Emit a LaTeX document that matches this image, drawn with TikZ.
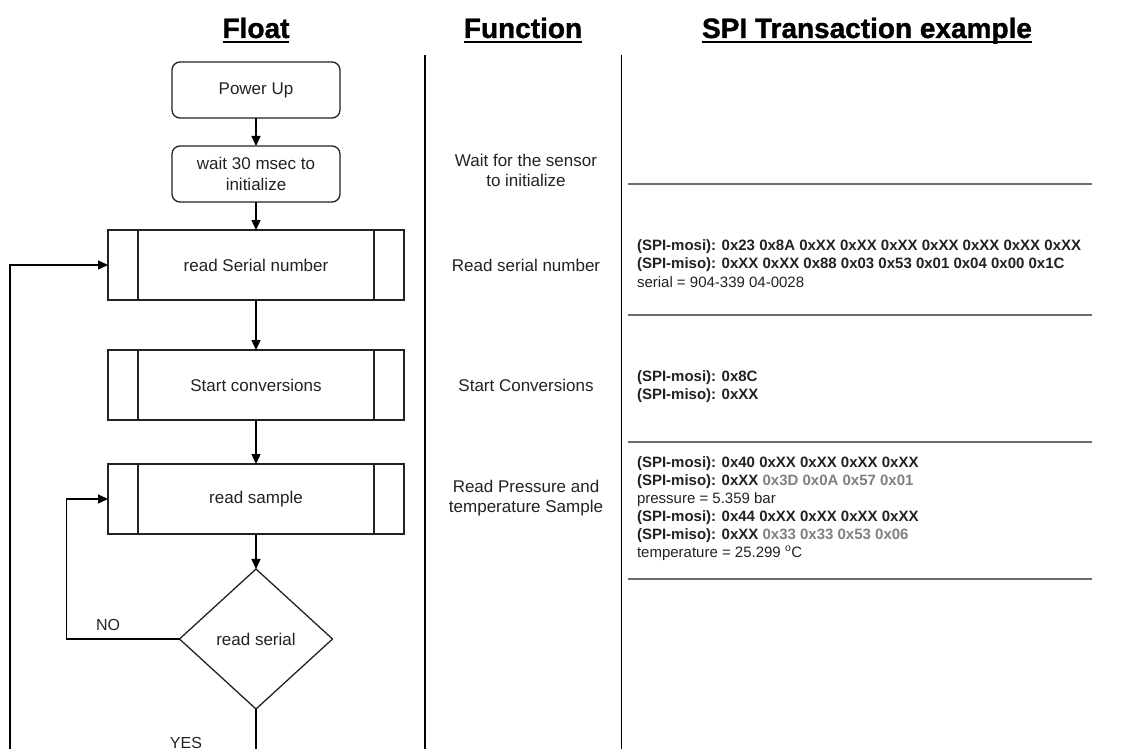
\documentclass[tikz,border=0pt]{standalone}
\usepackage{fontspec}
\setmainfont{Liberation Sans}
\newfontfamily\hdrfont[FakeBold=1.3]{Liberation Sans Bold}
\usetikzlibrary{shapes.geometric,arrows.meta}
\definecolor{ln}{HTML}{222222}
\definecolor{gv}{HTML}{808080}
\definecolor{sep}{HTML}{6E6E6E}
\begin{document}
\begin{tikzpicture}[x=1pt,y=-1pt,
  every node/.style={inner sep=0pt, outer sep=0pt, text=ln},
  hdr/.style={font=\fontsize{28}{32}\hdrfont, text=black, anchor=base},
  ul/.style={line width=2.6pt, black},
  term/.style={draw=ln, line width=1.3pt, rounded corners=8pt, minimum width=168pt, minimum height=56pt, align=center, font=\fontsize{17}{21}\selectfont},
  proc/.style={draw=ln, line width=1.3pt, minimum width=296pt, minimum height=70pt, font=\fontsize{17}{21}\selectfont,
    path picture={\draw[ln,line width=1.3pt]
      ([xshift=30pt]path picture bounding box.north west) -- ([xshift=30pt]path picture bounding box.south west)
      ([xshift=-30pt]path picture bounding box.north east) -- ([xshift=-30pt]path picture bounding box.south east);}},
  dec/.style={draw=ln, line width=1.3pt, diamond, minimum width=153pt, minimum height=140pt, font=\fontsize{17}{21}\selectfont},
  fn/.style={align=center, font=\fontsize{17}{20}\selectfont},
  spi/.style={anchor=base west, font=\fontsize{15}{18}\selectfont},
  lbl/.style={font=\fontsize{16}{19}\selectfont},
  arr/.style={draw=black, line width=1.4pt, -{Triangle[length=10pt,width=9pt]}},
  col/.style={draw=black, line width=1.5pt},
  hl/.style={draw=sep, line width=1.8pt}]
\useasboundingbox (0,0) rectangle (1122,749);
\clip (0,0) rectangle (1122,749);

% headers
\node[hdr] (hf) at (256,38) {Float};
\node[hdr] (hfn) at (523,38) {Function};
\node[hdr] (hs) at (867,38) {SPI Transaction example};
\draw[ul] ([yshift=-4pt]hf.base west) -- ([yshift=-4pt]hf.base east);
\draw[ul] ([yshift=-4pt]hfn.base west) -- ([yshift=-4pt]hfn.base east);
\draw[ul] ([yshift=-4pt]hs.base west) -- ([yshift=-4pt]hs.base east);

% column separators
\coordinate (c1t) at (425,55); \coordinate (c1b) at (425,760);
\coordinate (c2t) at (621.5,55); \coordinate (c2b) at (621.5,760);
\draw[col] (c1t) -- (c1b);
\draw[col] (c2t) -- (c2b);

% flowchart
\node[term] (pu) at (256,90) {Power Up};
\node[term] (w) at (256,174) {wait 30 msec to\\initialize};
\node[proc] (rs) at (256,265) {read Serial number};
\node[proc] (sc) at (256,385) {Start conversions};
\node[proc] (rsm) at (256,499) {read sample};
\node[dec] (d) at (256,639) {read serial};

\draw[arr] (pu) -- (w);
\draw[arr] (w) -- (rs);
\draw[arr] (rs) -- (sc);
\draw[arr] (sc) -- (rsm);
\draw[arr] (rsm) -- (d);
\draw[arr] (d.west) -- ++(-113,0) |- (rsm.west);
\draw[arr] (d.south) -- ++(0,60) -- ++(-246,0) |- (rs.west);
\node[lbl] (no) at (108,625) {NO};
\node[lbl] (yes) at (186,743) {YES};

% function column
\node[fn] (f1) at (526,170) {Wait for the sensor\\to initialize};
\node[fn] (f2) at (526,265) {Read serial number};
\node[fn] (f3) at (526,385) {Start Conversions};
\node[fn] (f4) at (526,498) {Read Pressure and\\temperature Sample};

% SPI column
\coordinate (h1a) at (628,184); \coordinate (h1b) at (1092,184);
\coordinate (h2a) at (628,315); \coordinate (h2b) at (1092,315);
\coordinate (h3a) at (628,442); \coordinate (h3b) at (1092,442);
\coordinate (h4a) at (628,579); \coordinate (h4b) at (1092,579);
\draw[hl] (h1a) -- (h1b);
\draw[hl] (h2a) -- (h2b);
\draw[hl] (h3a) -- (h3b);
\draw[hl] (h4a) -- (h4b);

\node[spi] (s1) at (637,250) {\bfseries (SPI-mosi): 0x23 0x8A 0xXX 0xXX 0xXX 0xXX 0xXX 0xXX 0xXX};
\node[spi] (s2) at (637,268) {\bfseries (SPI-miso): 0xXX 0xXX 0x88 0x03 0x53 0x01 0x04 0x00 0x1C};
\node[spi] (s3) at (637,287) {serial = 904-339 04-0028};

\node[spi] (s4) at (637,381) {\bfseries (SPI-mosi): 0x8C};
\node[spi] (s5) at (637,399) {\bfseries (SPI-miso): 0xXX};

\node[spi] (s6) at (637,467) {\bfseries (SPI-mosi): 0x40 0xXX 0xXX 0xXX 0xXX};
\node[spi] (s7) at (637,485) {\bfseries (SPI-miso): 0xXX \textcolor{gv}{0x3D 0x0A 0x57 0x01}};
\node[spi] (s8) at (637,503) {pressure = 5.359 bar};
\node[spi] (s9) at (637,521) {\bfseries (SPI-mosi): 0x44 0xXX 0xXX 0xXX 0xXX};
\node[spi] (s10) at (637,539) {\bfseries (SPI-miso): 0xXX \textcolor{gv}{0x33 0x33 0x53 0x06}};
\node[spi] (s11) at (637,557) {temperature = 25.299 \textsuperscript{o}C};
\end{tikzpicture}
\end{document}
